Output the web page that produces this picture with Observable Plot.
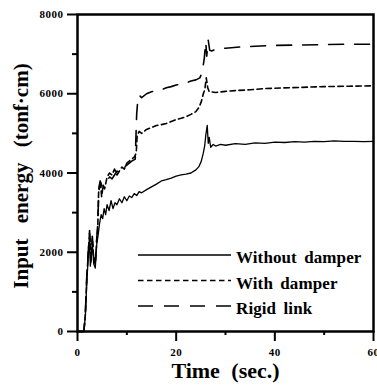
<!DOCTYPE html>
<html>
<head>
<meta charset="utf-8">
<script src="https://cdn.jsdelivr.net/npm/d3@7"></script>
<script src="https://cdn.jsdelivr.net/npm/@observablehq/plot@0.6"></script>
<style>
  html, body { margin: 0; padding: 0; background: #fff; }
  #chart svg { display: block; }
  #chart g[aria-label$="tick label"] text { font-weight: bold; letter-spacing: 0.5px; }
</style>
</head>
<body>
<div id="chart"></div>
<script>
// Input energy histories (tonf·cm) against time (sec.)
const timeWithout = [0, 1.3, 1.6, 1.9, 2.2, 2.45, 2.6, 2.8, 3.0, 3.3, 3.6, 3.9, 4.2, 4.5, 4.8, 5.1, 5.4, 5.7, 6.0, 6.4, 6.8, 7.2, 7.6, 8.0, 8.5, 9.0, 9.5, 10, 10.5, 11, 11.5, 12, 12.5, 13, 14, 15, 16, 17, 18, 19, 20, 21, 22, 23, 24, 24.6, 25.1, 25.5, 25.8, 26.0, 26.3, 26.5, 26.7, 27.0, 27.5, 28, 29, 30, 32, 34, 36, 38, 40, 42, 44, 46, 48, 50, 52, 54, 56, 58, 60];
const energyWithout = [0, 0, 400, 1300, 1900, 2450, 1650, 1900, 2250, 1700, 1600, 2200, 2450, 2750, 2950, 2850, 3100, 2950, 3200, 3050, 3300, 3100, 3250, 3200, 3350, 3250, 3400, 3300, 3420, 3380, 3480, 3430, 3530, 3500, 3580, 3650, 3720, 3800, 3830, 3870, 3920, 3950, 3970, 4000, 4080, 4160, 4300, 4500, 4700, 4950, 5200, 4750, 4900, 4650, 4720, 4680, 4720, 4700, 4740, 4720, 4760, 4750, 4780, 4770, 4790, 4780, 4800, 4790, 4810, 4800, 4800, 4790, 4800];

const timeDamper = [0, 1.3, 1.6, 1.9, 2.2, 2.45, 2.7, 3.0, 3.3, 3.6, 3.9, 4.1, 4.3, 4.6, 4.9, 5.2, 5.5, 6.0, 6.5, 7.0, 7.5, 8.0, 8.5, 9.0, 9.5, 10, 10.5, 11, 11.5, 11.9, 12.1, 12.5, 13, 14, 15, 16, 17, 18, 19, 20, 21, 22, 23, 24, 24.6, 25.1, 25.5, 25.8, 26.1, 26.4, 26.7, 27, 28, 30, 32, 35, 38, 40, 45, 50, 55, 60];
const energyDamper = [0, 0, 450, 1400, 2000, 2500, 1750, 2350, 1800, 1700, 2300, 2600, 3600, 3800, 3400, 3700, 3600, 3900, 4000, 3950, 4100, 3950, 4050, 4150, 4100, 4250, 4300, 4350, 4400, 4500, 4950, 5050, 5000, 5100, 5150, 5200, 5220, 5250, 5300, 5350, 5380, 5420, 5480, 5550, 5650, 5800, 6000, 6100, 6400, 6150, 6050, 6050, 6030, 6060, 6080, 6100, 6130, 6140, 6160, 6180, 6190, 6200];

const timeRigid = [0, 1.3, 1.6, 1.9, 2.2, 2.45, 2.7, 3.0, 3.3, 3.6, 3.9, 4.1, 4.3, 4.6, 5.0, 5.5, 6.0, 6.5, 7.0, 7.5, 8.0, 8.5, 9.0, 10, 10.5, 11, 11.7, 12.0, 12.3, 12.6, 13, 14, 15, 16, 17, 18, 19, 20, 21, 22, 23, 24, 24.8, 25.3, 25.7, 26.0, 26.2, 26.5, 26.8, 27.2, 28, 30, 33, 36, 40, 45, 50, 55, 60];
const energyRigid = [0, 0, 500, 1450, 2050, 2550, 1800, 2400, 1850, 1750, 2350, 2700, 3500, 3800, 3650, 3750, 3800, 3900, 3850, 3950, 4050, 4000, 4100, 4200, 4250, 4300, 4350, 5500, 5950, 5950, 5900, 6000, 6050, 6080, 6100, 6150, 6180, 6220, 6250, 6280, 6320, 6350, 6400, 6550, 6900, 7300, 6950, 7350, 7100, 7080, 7120, 7150, 7180, 7200, 7220, 7230, 7240, 7250, 7250];

const seriesNames = ["Without damper", "With damper", "Rigid link"];
const seriesDash = [null, "5.5,3.5", "15,11"];

const yMajorTicks = [0, 2000, 4000, 6000, 8000];
const yMinorTicks = [1000, 3000, 5000, 7000];
const xMajorTicks = [0, 20, 40, 60];
const xMinorTicks = [10, 30, 50];

const xTitle = "Time (sec.)";
const yTitle = "Input energy (tonf·cm)";

const toRows = (ts, vs, name) => ts.map((t, i) => ({time: t, energy: vs[i], series: name}));
const series = [
  toRows(timeWithout, energyWithout, seriesNames[0]),
  toRows(timeDamper, energyDamper, seriesNames[1]),
  toRows(timeRigid, energyRigid, seriesNames[2])
];

const font = "Liberation Serif, Times New Roman, serif";

const chart = Plot.plot({
  width: 377,
  height: 390,
  marginLeft: 77,
  marginRight: 4,
  marginTop: 14,
  marginBottom: 59,
  x: {domain: [0, 60]},
  y: {domain: [0, 8000]},
  style: {fontFamily: font, background: "#fff", color: "#000", overflow: "hidden"},
  marks: [
    ...series.map((rows, i) => Plot.line(rows, {
      x: "time", y: "energy",
      stroke: "#000",
      strokeWidth: i === 0 ? 1.3 : 1.6,
      strokeDasharray: seriesDash[i] ?? undefined,
      curve: "linear"
    })),
    Plot.frame({stroke: "#000", strokeWidth: 2.5}),
    Plot.axisY(yMajorTicks, {tickSize: 10, tickPadding: 4, strokeWidth: 2, label: null,
      fontSize: 11, fontWeight: "bold", tickFormat: d => String(d)}),
    Plot.axisY(yMinorTicks, {tickSize: 5, strokeWidth: 2, text: null, label: null}),
    Plot.axisX(xMajorTicks, {tickSize: 10, tickPadding: 7, strokeWidth: 2, label: null,
      fontSize: 11, fontWeight: "bold", tickFormat: d => String(d)}),
    Plot.axisX(xMinorTicks, {tickSize: 4, strokeWidth: 2, text: null, label: null}),
    Plot.text([xTitle], {frameAnchor: "bottom", dy: 46, fontSize: 22, fontWeight: "bold",
      textAnchor: "middle", className: "x-title"}),
    Plot.text([yTitle], {frameAnchor: "left", dx: -56, dy: 3, rotate: -90, fontSize: 21,
      fontWeight: "bold", textAnchor: "middle", className: "y-title"})
  ]
});

const svg = d3.select(chart);
svg.selectAll("g[aria-label$='tick label']").attr("font-weight", "bold");
svg.selectAll(".x-title text").style("word-spacing", "6px").style("font-weight", "bold");
svg.selectAll(".y-title text").style("word-spacing", "10px").style("font-weight", "bold");

// Legend: sample line plus label for each series
const legend = svg.append("g")
  .attr("font-family", font)
  .attr("font-weight", "bold")
  .attr("text-anchor", "start");
const legendX0 = 138, legendX1 = 231, legendTextX = 236, legendY0 = 255, legendStep = 25.5;
seriesNames.forEach((name, i) => {
  const y = legendY0 + i * legendStep;
  legend.append("line")
    .attr("x1", legendX0).attr("x2", legendX1)
    .attr("y1", y).attr("y2", y)
    .attr("stroke", "#000")
    .attr("stroke-width", i === 0 ? 1.3 : 1.6)
    .attr("stroke-dasharray", seriesDash[i]);
  legend.append("text")
    .attr("x", legendTextX).attr("y", y + 8)
    .attr("font-size", 17)
    .style("letter-spacing", "0.1px")
    .style("word-spacing", "3px")
    .text(name);
});

document.getElementById("chart").append(chart);
</script>
</body>
</html>
